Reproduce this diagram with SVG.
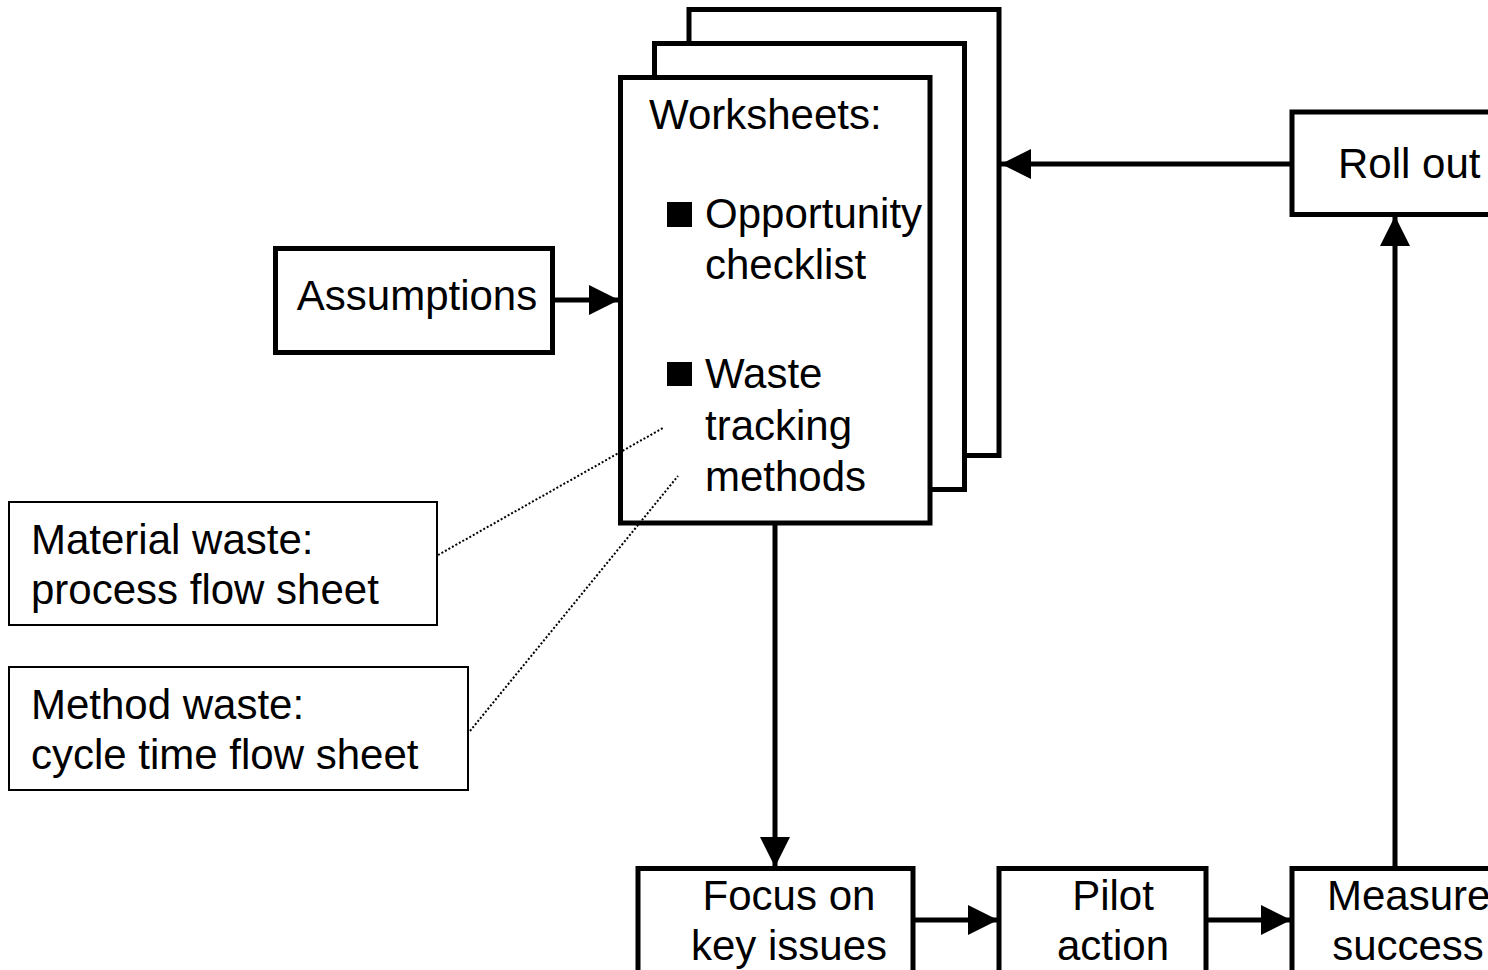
<svg xmlns="http://www.w3.org/2000/svg" width="1488" height="970" viewBox="0 0 1488 970">
<style>
text{font-family:"Liberation Sans",Arial,sans-serif;font-size:42px;fill:#000}
.box{fill:#fff;stroke:#000;stroke-width:5}
.note{fill:#fff;stroke:#000;stroke-width:2}
.conn{fill:none;stroke:#000;stroke-width:5}
.dot{fill:none;stroke:#000;stroke-width:2;stroke-dasharray:2 2}
.c{text-anchor:middle}
</style>
<defs>
<marker id="ah" markerUnits="userSpaceOnUse" markerWidth="30" markerHeight="30" viewBox="0 0 30 30" refX="30" refY="15" orient="auto">
<path d="M0,0 L30,15 L0,30 Z" fill="#000"/>
</marker>
</defs>
<rect width="1488" height="970" fill="#fff"/>
<g id="worksheets">
<rect class="box" x="689" y="9.5" width="310" height="446"/>
<rect class="box" x="654.5" y="43.5" width="310" height="446"/>
<rect class="box" x="620.5" y="77.5" width="309.5" height="445.5"/>
<text x="649" y="129">Worksheets:</text>
<rect x="667" y="202" width="25" height="25" fill="#000"/>
<text x="705" y="228">Opportunity</text>
<text x="705" y="279">checklist</text>
<rect x="667" y="362" width="25" height="24" fill="#000"/>
<text x="705" y="388">Waste</text>
<text x="705" y="440">tracking</text>
<text x="705" y="491">methods</text>
</g>
<g id="assumptions">
<rect class="box" x="275.5" y="248.5" width="277" height="104"/>
<text x="417" y="310" class="c">Assumptions</text>
</g>
<g id="rollout">
<rect class="box" x="1292" y="112" width="220" height="102.5"/>
<text x="1338" y="178">Roll out</text>
</g>
<g id="focus">
<rect class="box" x="638" y="868.5" width="275" height="140"/>
<text x="789" y="910" class="c">Focus on</text>
<text x="789" y="960" class="c">key issues</text>
</g>
<g id="pilot">
<rect class="box" x="999" y="868.5" width="207" height="140"/>
<text x="1113" y="910" class="c">Pilot</text>
<text x="1113" y="960" class="c">action</text>
</g>
<g id="measure">
<rect class="box" x="1292" y="868.5" width="220" height="140"/>
<text x="1327" y="910">Measure</text>
<text x="1408" y="960" class="c">success</text>
</g>
<g id="material">
<rect class="note" x="9" y="502" width="428" height="123"/>
<text x="31" y="554">Material waste:</text>
<text x="31" y="604">process flow sheet</text>
</g>
<g id="method">
<rect class="note" x="9" y="667" width="459" height="123"/>
<text x="31" y="719">Method waste:</text>
<text x="31" y="769">cycle time flow sheet</text>
</g>
<g id="connectors">
<line class="conn" x1="553" y1="300" x2="619" y2="300" marker-end="url(#ah)"/>
<line class="conn" x1="1292" y1="164" x2="1001" y2="164" marker-end="url(#ah)"/>
<line class="conn" x1="775" y1="523" x2="775" y2="867" marker-end="url(#ah)"/>
<line class="conn" x1="913" y1="920" x2="998" y2="920" marker-end="url(#ah)"/>
<line class="conn" x1="1206" y1="920" x2="1291" y2="920" marker-end="url(#ah)"/>
<line class="conn" x1="1395" y1="867" x2="1395" y2="216" marker-end="url(#ah)"/>
<line class="dot" x1="438" y1="555" x2="663" y2="428"/>
<line class="dot" x1="470" y1="731" x2="678" y2="476"/>
</g>
</svg>
